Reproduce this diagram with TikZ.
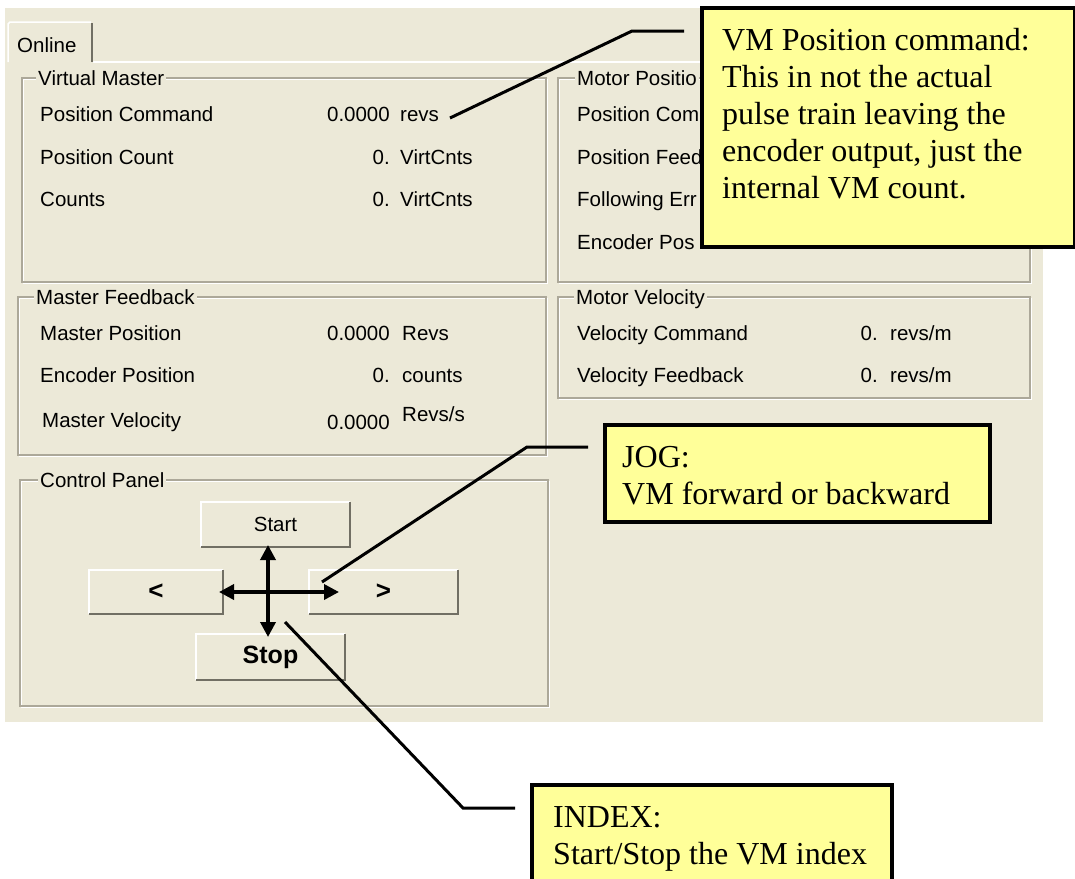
\documentclass[tikz,border=0pt]{standalone}
\usepackage{fontspec}
\setmainfont{Liberation Serif}
\newfontfamily\guifont{Liberation Sans}
\usetikzlibrary{arrows.meta}
\definecolor{panelbg}{HTML}{ECE9D8}
\definecolor{etchdark}{HTML}{ACA899}
\definecolor{btnshadow}{HTML}{716F64}
\definecolor{noteyellow}{HTML}{FFFF99}
\newcommand\etchbox[4]{%
  \draw[white, line width=1.5pt] ([shift={(1.5,1.5)}]#1,#2) rectangle ([shift={(1.5,1.5)}]#3,#4);
  \draw[etchdark, line width=1.5pt] (#1,#2) rectangle (#3,#4);}
\newcommand\bevel[1]{%
  \draw[white, line width=1.5pt] (#1.south west) |- (#1.north east);
  \draw[btnshadow, line width=2.5pt] (#1.south west) -| (#1.north east);}
\begin{document}
\begin{tikzpicture}[x=1pt,y=-1pt,
  gui/.style={font=\guifont\fontsize{20.5}{24}\selectfont, inner sep=0pt, text=black},
  lbl/.style={gui, anchor=base west},
  num/.style={gui, anchor=base east},
  grptitle/.style={gui, fill=panelbg, inner xsep=2pt, inner ysep=1pt, anchor=base west},
  btn/.style={gui, fill=panelbg, inner sep=0pt},
  note/.style={draw=black, line width=3.5pt, fill=noteyellow},
  notetext/.style={font=\fontsize{32}{37}\selectfont, align=left, anchor=north west, inner sep=0pt},
  leader/.style={line width=3pt, line join=miter},
  cross/.style={line width=3.5pt, {Triangle[length=15pt,width=15pt]}-{Triangle[length=15pt,width=15pt]}}]
\clip (0,0) rectangle (1075,878);
\fill[white] (0,0) rectangle (1075,878);
% panel background
\fill[panelbg] (5,8) rectangle (1043,722);
% tab page top line
\draw[white, line width=1.5pt] (93,62) -- (1041,62);
% tab
\filldraw[panelbg] (8,62) -- (8,24) -- (10,22) -- (91,22) -- (93,24) -- (93,62) -- cycle;
\draw[white, line width=1.5pt] (8,62) -- (8,24) -- (10,22) -- (91,22);
\draw[btnshadow, line width=1.5pt] (92,23) -- (92,62);
\node[lbl] (tabOnline) at (17,52) {Online};

% ---------- Virtual Master
\etchbox{22}{78}{546}{282}
\node[grptitle] (tVM) at (36,85) {Virtual Master};
\node[lbl] (vm1) at (40,121) {Position Command};
\node[num] (vm1n) at (390,121) {0.0000};
\node[lbl] (vm1u) at (400,121) {revs};
\node[lbl] (vm2) at (40,164) {Position Count};
\node[num] (vm2n) at (390,164) {0.};
\node[lbl] (vm2u) at (400,164) {VirtCnts};
\node[lbl] (vm3) at (40,206) {Counts};
\node[num] (vm3n) at (390,206) {0.};
\node[lbl] (vm3u) at (400,206) {VirtCnts};

% ---------- Motor Position (partly hidden by the callout)
\etchbox{558}{78}{1030}{282}
\node[grptitle] (tMP) at (575,85) {Motor Positio};
\node[lbl] (mp1) at (577,121) {Position Com};
\node[lbl] (mp2) at (577,164) {Position Feed};
\node[lbl] (mp3) at (577,206) {Following Err};
\node[lbl] (mp4) at (577,249) {Encoder Pos};

% ---------- Master Feedback
\etchbox{18}{297}{546}{455}
\node[grptitle] (tMF) at (34,304) {Master Feedback};
\node[lbl] (mf1) at (40,340) {Master Position};
\node[num] (mf1n) at (390,340) {0.0000};
\node[lbl] (mf1u) at (402,340) {Revs};
\node[lbl] (mf2) at (40,382) {Encoder Position};
\node[num] (mf2n) at (390,382) {0.};
\node[lbl] (mf2u) at (402,382) {counts};
\node[lbl] (mf3) at (42,427) {Master Velocity};
\node[num] (mf3n) at (390,429) {0.0000};
\node[lbl] (mf3u) at (402,421) {Revs/s};

% ---------- Motor Velocity
\etchbox{558}{297}{1030}{398}
\node[grptitle] (tMV) at (574,304) {Motor Velocity};
\node[lbl] (mv1) at (577,340) {Velocity Command};
\node[num] (mv1n) at (878,340) {0.};
\node[lbl] (mv1u) at (890,340) {revs/m};
\node[lbl] (mv2) at (577,382) {Velocity Feedback};
\node[num] (mv2n) at (878,382) {0.};
\node[lbl] (mv2u) at (890,382) {revs/m};

% ---------- Control Panel
\etchbox{20}{480}{548}{706}
\node[grptitle] (tCP) at (38,487) {Control Panel};
\node[btn, minimum width=149pt, minimum height=45pt] (start) at (275.5,524.5) {Start};
\node[btn, minimum width=134pt, minimum height=44pt, font=\guifont\bfseries\fontsize{26}{28}\selectfont] (back) at (156,592) {<};
\node[btn, minimum width=149pt, minimum height=44pt, font=\guifont\bfseries\fontsize{26}{28}\selectfont] (fwd) at (383.5,592) {>};
\node[btn, minimum width=149pt, minimum height=46pt, font=\guifont\bfseries\fontsize{25}{28}\selectfont] (stop) at (270.5,657) {Stop};
\bevel{start}\bevel{back}\bevel{fwd}\bevel{stop}

% cross arrows
\coordinate (crossT) at (268,545);
\coordinate (crossB) at (268,637);
\coordinate (crossL) at (219,592);
\coordinate (crossR) at (339,592);
\draw[cross] (crossT) -- (crossB);
\draw[cross] (crossL) -- (crossR);

% ---------- callouts
\node[note, anchor=north west, minimum width=373pt, minimum height=239pt] (vmnote) at (700,6) {};
\node[notetext] (vmtext) at (722,28) {VM Position command:\\This in not the actual\\pulse train leaving the\\encoder output, just the\\internal VM count.};
\coordinate (vmA) at (450,118);
\coordinate (vmB) at (632,31);
\coordinate (vmC) at (684,31);
\draw[leader] (vmA) -- (vmB) -- (vmC);

\node[note, anchor=north west, minimum width=385pt, minimum height=97pt] (jognote) at (603,423) {};
\node[notetext] (jogtext) at (622,446) {JOG:\\VM forward or backward};
\coordinate (jogA) at (322,582);
\coordinate (jogB) at (527,447);
\coordinate (jogC) at (588,447);
\draw[leader] (jogA) -- (jogB) -- (jogC);

\node[note, anchor=north west, minimum width=360pt, minimum height=120pt] (idxnote) at (530,783) {};
\node[notetext] (idxtext) at (553,806) {INDEX:\\Start/Stop the VM index};
\coordinate (idxA) at (285,622);
\coordinate (idxB) at (463,808);
\coordinate (idxC) at (515,808);
\draw[leader] (idxA) -- (idxB) -- (idxC);
\end{tikzpicture}
\end{document}
